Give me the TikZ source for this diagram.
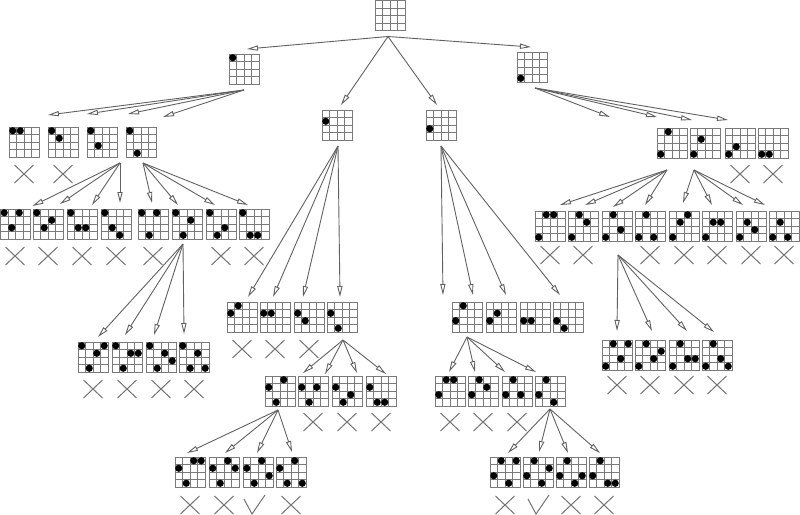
\documentclass[tikz,border=0pt]{standalone}
\usetikzlibrary{arrows.meta,calc}
\definecolor{gridcol}{gray}{0.48}
\definecolor{linkcol}{gray}{0.38}
\definecolor{markcol}{gray}{0.45}
\tikzset{
  boardnode/.style={draw=gridcol, line width=0.45pt, minimum size=15pt, inner sep=0pt, outer sep=0pt},
  gridline/.style={draw=gridcol, line width=0.45pt},
  stone/.style={fill=black},
  link/.style={draw=linkcol, line width=0.45pt, -{Triangle[open,length=5.5pt,width=2.6pt,fill=white]}},
  markbox/.style={minimum width=9.5pt, minimum height=9pt, inner sep=0pt, outer sep=0pt},
  markline/.style={draw=markcol, line width=0.5pt}
}
\newcommand\board[3]{%
  \node[boardnode] (#1) at ({#2+15},{#3+15}) {};
  \foreach \kk in {1,2,3}{%
    \draw[gridline] ($(#1.north west)+(\kk*7.5,0)$) -- ++(0,30);
    \draw[gridline] ($(#1.north west)+(0,\kk*7.5)$) -- ++(30,0);
  }%
}
\newcommand\stones[2]{%
  \foreach \cc/\rr in {#2}{%
    \fill[stone] ($(#1.north west)+(\cc*7.5-3.75,\rr*7.5-3.75)$) circle[radius=1.8pt];
  }%
}
\newcommand\conn[6]{\draw[link] ($(#1.south)+(#2,#3)$) -- ($(#4.north)+(#5,#6)$);}
\newcommand\crossmark[3]{%
  \node[markbox] (#1) at (#2,#3) {};
  \draw[markline] (#1.north west) -- (#1.south east) (#1.north east) -- (#1.south west);
}
\newcommand\tickmark[3]{%
  \node[markbox] (#1) at (#2,#3) {};
  \draw[markline] ($(#1.center)+(-14,-6)$) -- ($(#1.center)+(-6,9)$) -- ($(#1.center)+(7,-10)$);
}
\begin{document}
\begin{tikzpicture}[x=0.5pt,y=-0.5pt]
\useasboundingbox (0,0) rectangle (800,515);
% root and level 1
\board{R}{375}{0.5}
\board{A}{229}{54}\stones{A}{1/1}
\board{B}{322}{110}\stones{B}{1/2}
\board{C}{426}{110}\stones{C}{1/3}
\board{D}{517}{52}\stones{D}{1/4}
\conn{R}{-2}{6}{A}{3}{-5}
\conn{R}{-2}{6}{B}{4}{-5}
\conn{R}{-2}{6}{C}{-4}{-5}
\conn{R}{-2}{6}{D}{-1}{-5}
% ---------- A branch
\board{A1}{9}{127}\stones{A1}{1/1,2/1}
\board{A2}{48}{127}\stones{A2}{1/1,2/2}
\board{A3}{87}{127}\stones{A3}{1/1,2/3}
\board{A4}{126}{127}\stones{A4}{1/1,2/4}
\conn{A}{0}{6}{A1}{24}{-12}
\conn{A}{0}{6}{A2}{24}{-13}
\conn{A}{0}{6}{A3}{26}{-13}
\conn{A}{0}{6}{A4}{22}{-10}
\crossmark{xA1}{24}{174}
\crossmark{xA2}{63}{174}
\board{A31}{0.5}{209}\stones{A31}{1/1,2/3,3/1}
\board{A32}{33}{209}\stones{A32}{1/1,2/3,3/2}
\board{A33}{67}{209}\stones{A33}{1/1,2/3,3/3}
\board{A34}{101}{209}\stones{A34}{1/1,2/3,3/4}
\board{A41}{138}{209}\stones{A41}{1/1,2/4,3/1}
\board{A42}{172}{209}\stones{A42}{1/1,2/4,3/2}
\board{A43}{206}{209}\stones{A43}{1/1,2/4,3/3}
\board{A44}{239}{209}\stones{A44}{1/1,2/4,3/4}
\conn{A3}{18}{6}{A31}{17}{-3}
\conn{A3}{18}{6}{A32}{12}{-5}
\conn{A3}{18}{6}{A33}{10}{-4}
\conn{A3}{18}{6}{A34}{4}{-6}
\conn{A4}{2}{6}{A41}{-1}{-6}
\conn{A4}{2}{6}{A42}{-9}{-4}
\conn{A4}{2}{6}{A43}{-6}{-4}
\conn{A4}{2}{6}{A44}{-6}{-4}
\crossmark{xA31}{15}{256}
\crossmark{xA32}{48}{256}
\crossmark{xA33}{82}{256}
\crossmark{xA34}{116}{256}
\crossmark{xA41}{153}{256}
\crossmark{xA43}{221}{256}
\crossmark{xA44}{254}{256}
\board{A421}{78}{342}\stones{A421}{1/1,2/4,3/2,4/1}
\board{A422}{112}{342}\stones{A422}{1/1,2/4,3/2,4/2}
\board{A423}{146}{342}\stones{A423}{1/1,2/4,3/2,4/3}
\board{A424}{179}{342}\stones{A424}{1/1,2/4,3/2,4/4}
\conn{A42}{-4}{5}{A421}{5}{-5}
\conn{A42}{-4}{5}{A422}{-2}{-7}
\conn{A42}{-4}{5}{A423}{-7}{-7}
\conn{A42}{-4}{5}{A424}{-10}{-8}
\crossmark{xA421}{93}{389}
\crossmark{xA422}{127}{389}
\crossmark{xA423}{161}{389}
\crossmark{xA424}{194}{389}
% ---------- B branch
\board{B1}{227}{302}\stones{B1}{1/2,2/1}
\board{B2}{260}{302}\stones{B2}{1/2,2/2}
\board{B3}{294}{302}\stones{B3}{1/2,2/3}
\board{B4}{327}{302}\stones{B4}{1/2,2/4}
\conn{B}{1}{6}{B1}{6}{-5}
\conn{B}{1}{6}{B2}{-2}{-5}
\conn{B}{1}{6}{B3}{-6}{-5}
\conn{B}{1}{6}{B4}{-2}{-5}
\crossmark{xB1}{242}{349}
\crossmark{xB2}{275}{349}
\crossmark{xB3}{309}{349}
\board{B41}{265}{376}\stones{B41}{1/2,2/4,3/1}
\board{B42}{298}{376}\stones{B42}{1/2,2/4,3/2}
\board{B43}{332}{376}\stones{B43}{1/2,2/4,3/3}
\board{B44}{366}{376}\stones{B44}{1/2,2/4,3/4}
\conn{B4}{1}{8}{B41}{23}{-3}
\conn{B4}{1}{8}{B42}{12}{-2}
\conn{B4}{1}{8}{B43}{10}{-3}
\conn{B4}{1}{8}{B44}{5}{-2}
\crossmark{xB42}{313}{422}
\crossmark{xB43}{347}{422}
\crossmark{xB44}{381}{422}
\board{B411}{175}{457}\stones{B411}{1/2,2/4,3/1,4/1}
\board{B412}{209}{457}\stones{B412}{1/2,2/4,3/1,4/2}
\board{B413}{243}{457}\stones{B413}{1/2,2/4,3/1,4/3}
\board{B414}{276}{457}\stones{B414}{1/2,2/4,3/1,4/4}
\conn{B41}{-2}{4}{B411}{-3}{-4}
\conn{B41}{-2}{4}{B412}{1}{-4}
\conn{B41}{-2}{4}{B413}{-1}{-4}
\conn{B41}{-2}{4}{B414}{1}{-5}
\crossmark{xB411}{190}{505}
\crossmark{xB412}{224}{505}
\tickmark{xB413}{258}{505}
\crossmark{xB414}{291}{505}
% ---------- C branch
\board{C1}{452}{302}\stones{C1}{1/3,2/1}
\board{C2}{486}{302}\stones{C2}{1/3,2/2}
\board{C3}{520}{302}\stones{C3}{1/3,2/3}
\board{C4}{553}{302}\stones{C4}{1/3,2/4}
\conn{C}{0}{6}{C1}{-24}{-7}
\conn{C}{0}{6}{C2}{-28}{-7}
\conn{C}{0}{6}{C3}{-29}{-7}
\conn{C}{0}{6}{C4}{-8}{-7}
\board{C11}{435}{376}\stones{C11}{1/3,2/1,3/1}
\board{C12}{468}{376}\stones{C12}{1/3,2/1,3/2}
\board{C13}{502}{376}\stones{C13}{1/3,2/1,3/3}
\board{C14}{535}{376}\stones{C14}{1/3,2/1,3/4}
\conn{C1}{0}{5}{C11}{-1}{-4}
\conn{C1}{0}{5}{C12}{-8}{-4}
\conn{C1}{0}{5}{C13}{-12}{-4}
\conn{C1}{0}{5}{C14}{-14}{-4}
\crossmark{xC11}{450}{422}
\crossmark{xC12}{483}{422}
\crossmark{xC13}{517}{422}
\board{C141}{490}{457}\stones{C141}{1/3,2/1,3/4,4/1}
\board{C142}{523}{457}\stones{C142}{1/3,2/1,3/4,4/2}
\board{C143}{556}{457}\stones{C143}{1/3,2/1,3/4,4/3}
\board{C144}{589}{457}\stones{C144}{1/3,2/1,3/4,4/4}
\conn{C14}{0}{3}{C141}{3}{-4}
\conn{C14}{0}{3}{C142}{1}{-5}
\conn{C14}{0}{3}{C143}{-3}{-4}
\conn{C14}{0}{3}{C144}{-4}{-4}
\crossmark{xC141}{505}{505}
\tickmark{xC142}{542}{505}
\crossmark{xC143}{571}{505}
\crossmark{xC144}{604}{505}
% ---------- D branch
\board{D1}{657}{128}\stones{D1}{1/4,2/1}
\board{D2}{690}{128}\stones{D2}{1/4,2/2}
\board{D3}{725}{128}\stones{D3}{1/4,2/3}
\board{D4}{758}{128}\stones{D4}{1/4,2/4}
\conn{D}{3}{6}{D1}{-62}{-11}
\conn{D}{3}{6}{D2}{-48}{-11}
\conn{D}{3}{6}{D3}{-48}{-8}
\conn{D}{3}{6}{D4}{-45}{-8}
\crossmark{xD3}{740}{174}
\crossmark{xD4}{773}{174}
\board{D11}{535}{211}\stones{D11}{1/4,2/1,3/1}
\board{D12}{568}{211}\stones{D12}{1/4,2/1,3/2}
\board{D13}{602}{211}\stones{D13}{1/4,2/1,3/3}
\board{D14}{635}{211}\stones{D14}{1/4,2/1,3/4}
\board{D21}{669}{211}\stones{D21}{1/4,2/2,3/1}
\board{D22}{702}{211}\stones{D22}{1/4,2/2,3/2}
\board{D23}{736}{211}\stones{D23}{1/4,2/2,3/3}
\board{D24}{769}{211}\stones{D24}{1/4,2/2,3/4}
\conn{D1}{-5}{12}{D11}{10}{-6}
\conn{D1}{-5}{12}{D12}{2}{-6}
\conn{D1}{-5}{12}{D13}{-4}{-4}
\conn{D1}{-5}{12}{D14}{-5}{-6}
\conn{D2}{-11}{12}{D21}{-1}{-8}
\conn{D2}{-11}{12}{D22}{-5}{-6}
\conn{D2}{-11}{12}{D23}{-8}{-6}
\conn{D2}{-11}{12}{D24}{-19}{-6}
\crossmark{xD11}{550}{255}
\crossmark{xD12}{583}{255}
\crossmark{xD14}{650}{255}
\crossmark{xD21}{684}{255}
\crossmark{xD22}{717}{255}
\crossmark{xD23}{751}{255}
\crossmark{xD24}{784}{255}
\board{D131}{602}{340}\stones{D131}{1/4,2/1,3/3,4/1}
\board{D132}{635}{340}\stones{D132}{1/4,2/1,3/3,4/2}
\board{D133}{669}{340}\stones{D133}{1/4,2/1,3/3,4/3}
\board{D134}{702}{340}\stones{D134}{1/4,2/1,3/3,4/4}
\conn{D13}{1}{14}{D131}{0}{-9}
\conn{D13}{1}{14}{D132}{2}{-9}
\conn{D13}{1}{14}{D133}{3}{-9}
\conn{D13}{1}{14}{D134}{-3}{-8}
\crossmark{xD131}{617}{385}
\crossmark{xD132}{650}{385}
\crossmark{xD133}{684}{385}
\crossmark{xD134}{717}{385}
\end{tikzpicture}
\end{document}
